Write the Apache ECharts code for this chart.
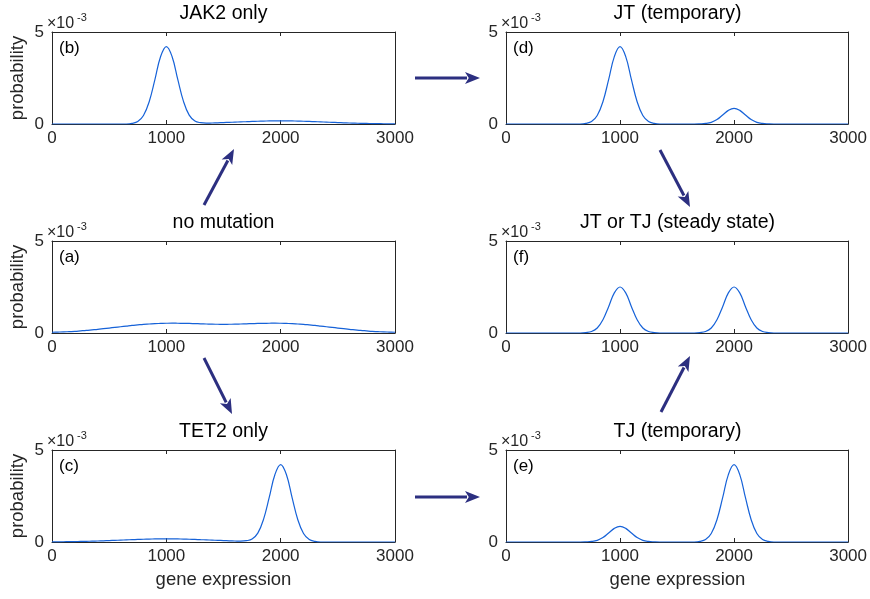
<!DOCTYPE html>
<html>
<head>
<meta charset="utf-8">
<script src="https://cdn.jsdelivr.net/npm/echarts@6/dist/echarts.min.js"></script>
<style>
  html, body { margin: 0; padding: 0; background: #fff; }
  #main { width: 870px; height: 599px; }
</style>
</head>
<body>
<div id="main"></div>
<script>
// gene expression sample positions
const xs = [0,50,100,150,200,250,300,350,400,450,500,550,600,650,700,750,800,850,900,950,
  1000,1050,1100,1150,1200,1250,1300,1350,1400,1450,1500,1550,1600,1650,1700,1750,1800,1850,1900,1950,
  2000,2050,2100,2150,2200,2250,2300,2350,2400,2450,2500,2550,2600,2650,2700,2750,2800,2850,2900,2950,3000]

// probability values, in units of 1e-3
const noMutation = [0.04,0.05,0.06,0.075,0.09,0.115,0.14,0.17,0.20,0.235,0.27,0.305,0.34,0.375,0.41,0.44,0.47,0.49,0.51,0.52,
  0.53,0.535,0.53,0.525,0.52,0.51,0.50,0.49,0.48,0.475,0.47,
  0.475,0.48,0.49,0.50,0.51,0.52,0.525,0.53,0.535,0.53,0.52,0.51,0.49,0.47,0.44,0.41,0.375,0.34,0.305,0.27,0.235,0.20,0.17,0.14,0.115,0.09,0.075,0.06,0.05,0.04]

const jak2Only = [0,0,0,0,0,0,0,0,0,0,0,0,0,0,
  0.03,0.13,0.46,1.21,2.41,3.67,4.21,3.67,2.42,1.23,0.48,0.16,0.07,
  0.046,0.055,0.066,0.078,0.09,0.103,0.116,0.128,0.14,0.15,0.158,0.165,0.169,0.17,
  0.169,0.165,0.158,0.15,0.14,0.128,0.116,0.103,0.09,0.078,0.066,0.055,0.046,0.037,0.03,0.023,0.018,0.014,0.01,0.007]

const tet2Only = [0.007,0.01,0.014,0.018,0.023,0.03,0.037,0.046,0.055,0.066,0.078,0.09,0.103,0.116,0.128,0.14,0.15,0.158,0.165,0.169,
  0.17,
  0.169,0.165,0.158,0.15,0.14,0.128,0.116,0.103,0.09,0.078,0.066,0.055,0.046,
  0.07,0.16,0.48,1.23,2.42,3.67,4.21,3.67,2.41,1.21,0.46,0.13,0.03,
  0,0,0,0,0,0,0,0,0,0,0,0,0,0]

const jtTemporary = [0,0,0,0,0,0,0,0,0,0,0,0,0,
  0,0.03,0.13,0.46,1.21,2.41,3.66,4.20,3.66,2.41,1.21,0.46,0.13,0.03,
  0,0,0,0,0,0,0,
  0.01,0.03,0.09,0.24,0.49,0.74,0.85,0.74,0.49,0.24,0.09,0.03,0.01,
  0,0,0,0,0,0,0,0,0,0,0,0,0,0]

const tjTemporary = [0,0,0,0,0,0,0,0,0,0,0,0,0,0,
  0.01,0.03,0.09,0.24,0.49,0.74,0.85,0.74,0.49,0.24,0.09,0.03,0.01,
  0,0,0,0,0,0,0,
  0.03,0.13,0.46,1.21,2.41,3.66,4.20,3.66,2.41,1.21,0.46,0.13,0.03,
  0,0,0,0,0,0,0,0,0,0,0,0,0,0]

const steadyState = [0,0,0,0,0,0,0,0,0,0,0,0,0,0,
  0.02,0.08,0.27,0.72,1.43,2.18,2.50,2.18,1.43,0.72,0.27,0.08,0.02,
  0,0,0,0,0,0,0,
  0.02,0.08,0.27,0.72,1.43,2.18,2.50,2.18,1.43,0.72,0.27,0.08,0.02,
  0,0,0,0,0,0,0,0,0,0,0,0,0,0]

const xTicks = [0, 3000, 1000]   // min, max, interval
const yTicks = [0, 5, 5]

const panels = [
  { tag: '(b)', title: 'JAK2 only', data: jak2Only, left: 52, top: 32, ylab: true, xlab: false },
  { tag: '(d)', title: 'JT (temporary)', data: jtTemporary, left: 506, top: 32, ylab: false, xlab: false },
  { tag: '(a)', title: 'no mutation', data: noMutation, left: 52, top: 241, ylab: true, xlab: false },
  { tag: '(f)', title: 'JT or TJ (steady state)', data: steadyState, left: 506, top: 241, ylab: false, xlab: false },
  { tag: '(c)', title: 'TET2 only', data: tet2Only, left: 52, top: 450, ylab: true, xlab: true },
  { tag: '(e)', title: 'TJ (temporary)', data: tjTemporary, left: 506, top: 450, ylab: false, xlab: true }
]

const W = 343
const H = 92
const axisColor = '#262626'
const font = '"Liberation Sans", Arial, Helvetica, sans-serif'
const lineColor = '#1662d8'
const arrowColor = '#2c2f80'

const grids = []
const xAxes = []
const yAxes = []
const series = []
const graphics = []

panels.forEach((p, i) => {
  grids.push({ left: p.left, top: p.top, width: W, height: H, show: false })
  const axLine = { show: true, onZero: false, lineStyle: { color: axisColor, width: 1 } }
  const tick = { show: true, inside: true, length: 4, lineStyle: { color: axisColor } }
  const label = { show: true, color: axisColor, fontSize: 17, fontFamily: font, formatter: (v) => String(v) }
  xAxes.push({
    gridIndex: i, type: 'value', position: 'bottom', min: xTicks[0], max: xTicks[1], interval: xTicks[2],
    axisLine: axLine, axisTick: tick, splitLine: { show: false },
    axisLabel: Object.assign({ margin: 6, showMinLabel: true, showMaxLabel: true }, label)
  })
  xAxes.push({
    gridIndex: i, type: 'value', position: 'top', min: xTicks[0], max: xTicks[1], interval: xTicks[2],
    axisLine: axLine, axisTick: tick, splitLine: { show: false }, axisLabel: { show: false }
  })
  yAxes.push({
    gridIndex: i, type: 'value', position: 'left', min: yTicks[0], max: yTicks[1], interval: yTicks[2],
    axisLine: axLine, axisTick: tick, splitLine: { show: false },
    axisLabel: Object.assign({ margin: 8 }, label)
  })
  yAxes.push({
    gridIndex: i, type: 'value', position: 'right', min: yTicks[0], max: yTicks[1], interval: yTicks[2],
    axisLine: axLine, axisTick: tick, splitLine: { show: false }, axisLabel: { show: false }
  })
  series.push({
    type: 'line',
    xAxisIndex: i * 2,
    yAxisIndex: i * 2,
    data: xs.map((x, k) => [x, p.data[k]]),
    showSymbol: false,
    smooth: 0.4,
    clip: true,
    lineStyle: { color: lineColor, width: 1.2 },
    silent: true
  })

  // title, tag, exponent
  graphics.push({
    type: 'text', x: p.left + W / 2, y: p.top - 18,
    style: { text: p.title, font: '19.5px ' + font, fill: '#000', textAlign: 'center', textVerticalAlign: 'middle' }
  })
  graphics.push({
    type: 'text', x: p.left + 7, y: p.top + 16,
    style: { text: p.tag, font: '17px ' + font, fill: '#000', textAlign: 'left', textVerticalAlign: 'middle' }
  })
  graphics.push({
    type: 'text', x: p.left - 5, y: p.top - 8,
    style: { text: '×10', font: '16px ' + font, fill: axisColor, textAlign: 'left', textVerticalAlign: 'middle' }
  })
  graphics.push({
    type: 'text', x: p.left + 25, y: p.top - 14,
    style: { text: '-3', font: '11px ' + font, fill: axisColor, textAlign: 'left', textVerticalAlign: 'middle' }
  })
  if (p.ylab) {
    graphics.push({
      type: 'text', x: 18, y: p.top + H / 2, rotation: Math.PI / 2,
      style: { text: 'probability', font: '18.5px ' + font, fill: axisColor, textAlign: 'center', textVerticalAlign: 'middle' }
    })
  }
  if (p.xlab) {
    graphics.push({
      type: 'text', x: p.left + W / 2, y: 580,
      style: { text: 'gene expression', font: '18.5px ' + font, fill: axisColor, textAlign: 'center', textVerticalAlign: 'middle' }
    })
  }
})

// flow arrows between the panels
const arrows = [
  [[204, 205], [234, 149]],
  [[204, 358], [232, 414]],
  [[415, 78], [480, 78]],
  [[415, 497], [480, 497]],
  [[660, 150], [690, 207]],
  [[661, 412], [690, 356]]
]
arrows.forEach((a) => {
  const [x1, y1] = a[0]
  const [x2, y2] = a[1]
  const len = Math.hypot(x2 - x1, y2 - y1)
  const ux = (x2 - x1) / len
  const uy = (y2 - y1) / len
  const hl = 15
  const hw = 6
  const bx = x2 - ux * hl
  const by = y2 - uy * hl
  graphics.push({
    type: 'line',
    shape: { x1: x1, y1: y1, x2: bx + ux * 2, y2: by + uy * 2 },
    style: { stroke: arrowColor, lineWidth: 3 }
  })
  graphics.push({
    type: 'polygon',
    shape: { points: [[x2, y2], [bx - uy * hw, by + ux * hw], [x2 - ux * hl * 0.75, y2 - uy * hl * 0.75], [bx + uy * hw, by - ux * hw]] },
    style: { fill: arrowColor }
  })
})

const chart = echarts.init(document.getElementById('main'))
chart.setOption({
  animation: false,
  backgroundColor: '#fff',
  grid: grids,
  xAxis: xAxes,
  yAxis: yAxes,
  series: series,
  graphic: graphics
})
</script>
</body>
</html>
